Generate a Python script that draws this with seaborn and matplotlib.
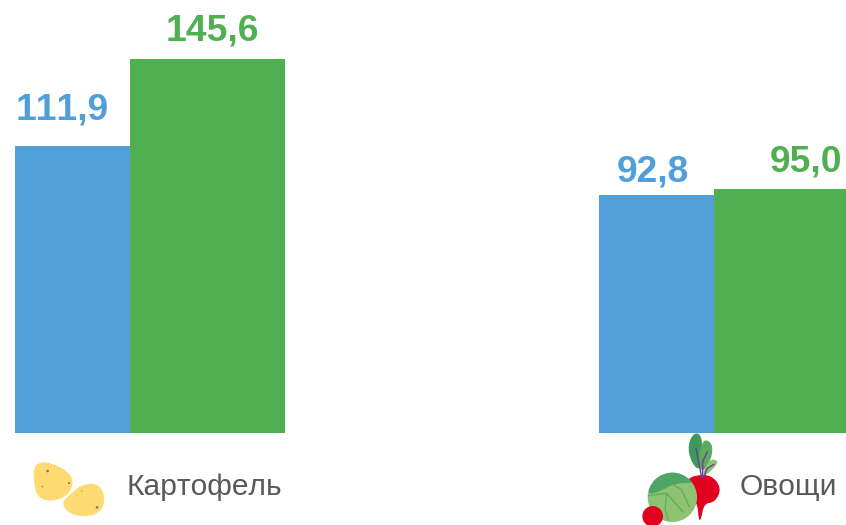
import numpy as np
import pandas as pd
import matplotlib
matplotlib.use("Agg")
import matplotlib.pyplot as plt
import seaborn as sns
from matplotlib.path import Path
from matplotlib.patches import PathPatch, Circle
from matplotlib.transforms import ScaledTranslation

# chart data
categories = ["Картофель", "Овощи"]
series_names = ["blue", "green"]
blue_values = [111.9, 92.8]
green_values = [145.6, 95.0]

# label offsets from bar centre / bar top, in pixels
label_dx = [[-30, -24], [5, 14]]
label_dy = [[26, 13], [18, 17]]

colors = {"blue": "#519FD8", "green": "#50AF51"}

sns.set_theme(style="white")
plt.rcParams["font.family"] = ["Liberation Sans", "DejaVu Sans"]
plt.rcParams["text.kerning_factor"] = 6

df = pd.DataFrame({
    "category": categories * 2,
    "series": [series_names[0]] * 2 + [series_names[1]] * 2,
    "value": blue_values + green_values,
})

fig = plt.figure(figsize=(8.46, 5.25), dpi=100)
ax = fig.add_axes([0, (525 - 433) / 525, 1, 433 / 525])

# bars overlap a little, hence the negative gap
sns.barplot(data=df, x="category", y="value", hue="series", order=categories,
            hue_order=series_names, palette=colors, width=0.393, gap=-0.3565,
            saturation=1, linewidth=0, legend=False, ax=ax)

ax.set_xlim(-150 / 584.5, (846 - 150) / 584.5)
ax.set_ylim(0, 433 / 2.569)
ax.set_xlabel("")
ax.set_ylabel("")
ax.set_yticks([])
sns.despine(ax=ax, left=True, bottom=True)

# value labels
for i, cont in enumerate(ax.containers):
    color = colors[series_names[i]]
    for j, rect in enumerate(cont):
        val = rect.get_height()
        ax.annotate(f"{val:.1f}".replace(".", ","),
                    xy=(rect.get_x() + rect.get_width() / 2, val),
                    xytext=(label_dx[i][j], label_dy[i][j]),
                    textcoords="offset pixels", ha="center", va="baseline",
                    fontsize=26.8, fontweight="bold", color=color,
                    annotation_clip=False)

# category labels sit right of the group, next to the icon
ax.tick_params(axis="x", length=0, pad=29, labelsize=21.6, labelcolor="#595959")
shift = ScaledTranslation(54 / 100, 0, fig.dpi_scale_trans)
for lab in ax.get_xticklabels():
    lab.set_transform(lab.get_transform() + shift)


# icons, drawn in pixel coordinates of the picture
icons = fig.add_axes([0, 0, 1, 1], facecolor="none")
icons.set_xlim(0, 846)
icons.set_ylim(525, 0)
icons.axis("off")


def blob(pts, color, origin=(0, 420), z=2):
    # closed smooth shape from control points given in zoomed pixels
    pts = np.array(pts, dtype=float) / 3 + origin
    mids = (pts + np.roll(pts, -1, axis=0)) / 2
    verts = [mids[-1]]
    codes = [Path.MOVETO]
    for p, m in zip(pts, mids):
        verts += [p, m]
        codes += [Path.CURVE3, Path.CURVE3]
    verts.append(verts[0])
    codes.append(Path.CLOSEPOLY)
    patch = PathPatch(Path(verts, codes), fc=color, ec="none", zorder=z)
    icons.add_patch(patch)
    return patch


def stroke(pts, color, lw=1.0, origin=(620, 425), z=3, clip=None):
    pts = np.array(pts, dtype=float) / 3 + origin
    line, = icons.plot(pts[:, 0], pts[:, 1], color=color, lw=lw, zorder=z,
                       solid_capstyle="round")
    if clip is not None:
        line.set_clip_path(clip)


# potatoes
yellow = "#FFDA73"
blob([(103, 130), (150, 125), (222, 165), (212, 222), (160, 245), (112, 235), (100, 180)], yellow)
blob([(245, 193), (300, 190), (318, 245), (290, 288), (215, 288), (182, 250), (212, 222)], yellow)
for x, y, r in [(143, 153, 1.3), (207, 189, 1.0), (127, 200, 0.7), (245, 213, 0.6), (291, 262, 1.3)]:
    icons.add_patch(Circle((x / 3, 420 + y / 3), r, fc="#77736A", ec="none", zorder=3))

# vegetables: beet, leaves, cabbage, tomato
veg = (620, 425)
red = "#E2001F"
blob([(225, 150), (275, 150), (305, 190), (285, 232), (252, 235), (243, 285), (236, 285), (232, 230), (200, 215), (200, 165)], red, veg, 2)
blob([(222, 22), (245, 30), (248, 90), (240, 140), (212, 110), (203, 60)], "#3E9A5C", veg, 2)
blob([(255, 40), (280, 60), (272, 110), (245, 145), (235, 105), (240, 70)], "#5CAB5F", veg, 2)
blob([(275, 100), (298, 110), (272, 140), (248, 155), (255, 125)], "#8FC46F", veg, 2)
stroke([(228, 70), (238, 120), (245, 158)], "#6A3D9A", 1.0, veg)
stroke([(262, 80), (248, 110), (248, 158)], "#6A3D9A", 1.0, veg)
stroke([(282, 118), (262, 130), (250, 158)], "#6A3D9A", 1.0, veg)
head = Circle((620 + 157 / 3, 425 + 217 / 3), 74 / 3, fc="#8EC471", ec="none", zorder=4)
icons.add_patch(head)
top_leaf = blob([(75, 210), (110, 110), (200, 120), (250, 175), (170, 172), (120, 200)], "#4FA566", veg, 5)
top_leaf.set_clip_path(head)
stroke([(85, 212), (140, 205), (190, 262)], "#5FAE62", 1.0, veg, 6, head)
stroke([(160, 178), (185, 195), (208, 245)], "#5FAE62", 1.0, veg, 6, head)
stroke([(140, 205), (135, 250), (145, 285)], "#5FAE62", 0.8, veg, 6, head)
icons.add_patch(Circle((620 + 98 / 3, 425 + 274 / 3), 31 / 3, fc=red, ec="none", zorder=7))
icons.set_xlim(0, 846)
icons.set_ylim(525, 0)

fig.savefig("out.png", dpi=100)
